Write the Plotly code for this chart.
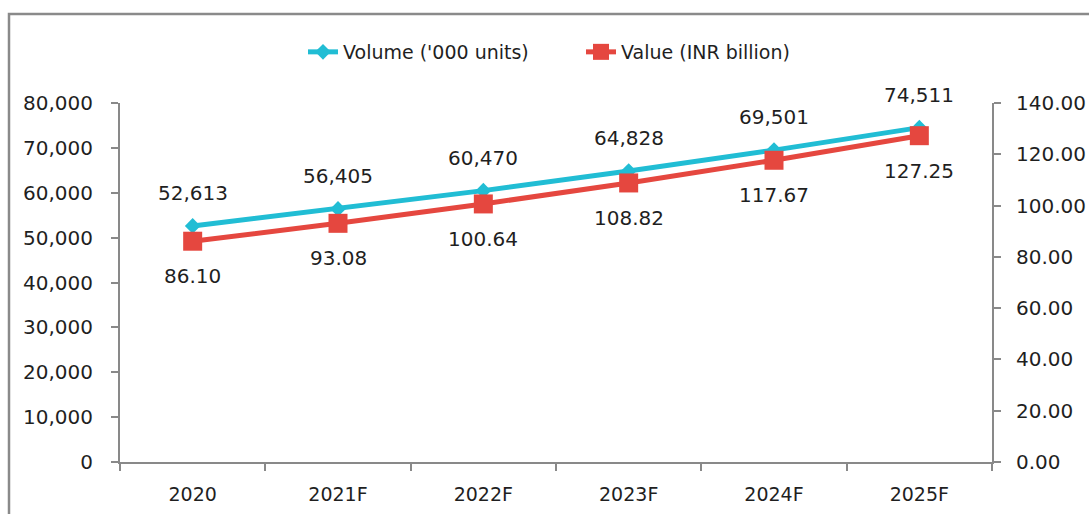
import plotly.graph_objects as go

categories = ["2020", "2021F", "2022F", "2023F", "2024F", "2025F"]
volume = [52613, 56405, 60470, 64828, 69501, 74511]
value = [86.10, 93.08, 100.64, 108.82, 117.67, 127.25]
volume_name = "Volume ('000 units)"
value_name = "Value (INR billion)"

CYAN = "#21BDD4"
RED = "#E5473F"
AXIS = "#898989"
TXT = "#1f1f1f"
FONT = "DejaVu Sans"
FS = 19
FN = 20

fig = go.Figure()
fig.add_trace(go.Scatter(
    x=categories, y=volume, name=volume_name, mode="lines+markers",
    line=dict(color=CYAN, width=5),
    marker=dict(symbol="diamond", size=12, color=CYAN),
    yaxis="y", cliponaxis=False))
fig.add_trace(go.Scatter(
    x=categories, y=value, name=value_name, mode="lines+markers",
    line=dict(color=RED, width=5),
    marker=dict(symbol="square", size=19, color=RED),
    yaxis="y2", cliponaxis=False))

annotations = []
for i, v in enumerate(volume):
    annotations.append(dict(x=i, y=v, xref="x", yref="y", text=f"{v:,}",
                            showarrow=False, yshift=33,
                            font=dict(family=FONT, size=FN, color=TXT)))
for i, v in enumerate(value):
    annotations.append(dict(x=i, y=v, xref="x", yref="y2", text=f"{v:.2f}",
                            showarrow=False, yshift=-35,
                            font=dict(family=FONT, size=FN, color=TXT)))

# body margin is removed by post_script, so work in page pixel coordinates
W, H = 1089, 514
L, T = 120, 103
R = W - 992
B = H - 462
pw = W - L - R
ph = H - T - B

def px(xp):
    return (xp - L) / pw

def py(yp):
    return (H - B - yp) / ph

fig.update_layout(
    width=W, height=H,
    margin=dict(l=L, r=R, t=T, b=B, autoexpand=False),
    paper_bgcolor="white", plot_bgcolor="white",
    font=dict(family=FONT, size=FS, color=TXT),
    showlegend=True,
    legend=dict(orientation="h", x=px(581), xanchor="center",
                y=py(52), yanchor="middle",
                font=dict(family=FONT, size=FS, color=TXT),
                bgcolor="rgba(0,0,0,0)", entrywidth=233),
    xaxis=dict(type="category", showgrid=False, zeroline=False,
               showline=True, linecolor=AXIS, linewidth=2,
               ticks="outside", tickson="boundaries", ticklen=7,
               tickcolor=AXIS, tickwidth=2, ticklabelstandoff=14,
               tickfont=dict(family=FONT, size=FS, color=TXT),
               range=[-0.5, 5.5], automargin=False),
    yaxis=dict(range=[0, 80000], dtick=10000, tickformat=",",
               showgrid=False, zeroline=False, showline=True,
               linecolor=AXIS, linewidth=2, ticks="outside", ticklen=7,
               tickcolor=AXIS, tickwidth=2, ticklabelstandoff=14,
               tickfont=dict(family=FONT, size=FN, color=TXT),
               automargin=False),
    yaxis2=dict(range=[0, 140], dtick=20, tickformat=".2f",
                overlaying="y", side="right",
                showgrid=False, zeroline=False, showline=True,
                linecolor=AXIS, linewidth=2, ticks="outside", ticklen=7,
                tickcolor=AXIS, tickwidth=2, ticklabelstandoff=11,
                tickfont=dict(family=FONT, size=FN, color=TXT),
                automargin=False),
    annotations=annotations,
    shapes=[dict(type="rect", xref="paper", yref="paper",
                 x0=px(9), x1=px(1100), y0=py(530), y1=py(14),
                 line=dict(color="#8a8a8a", width=2.5), layer="below")],
)

fig.write_html(
    "out.html",
    config={"displayModeBar": False},
    post_script="document.body.style.margin='0';document.body.style.overflow='hidden';",
)
